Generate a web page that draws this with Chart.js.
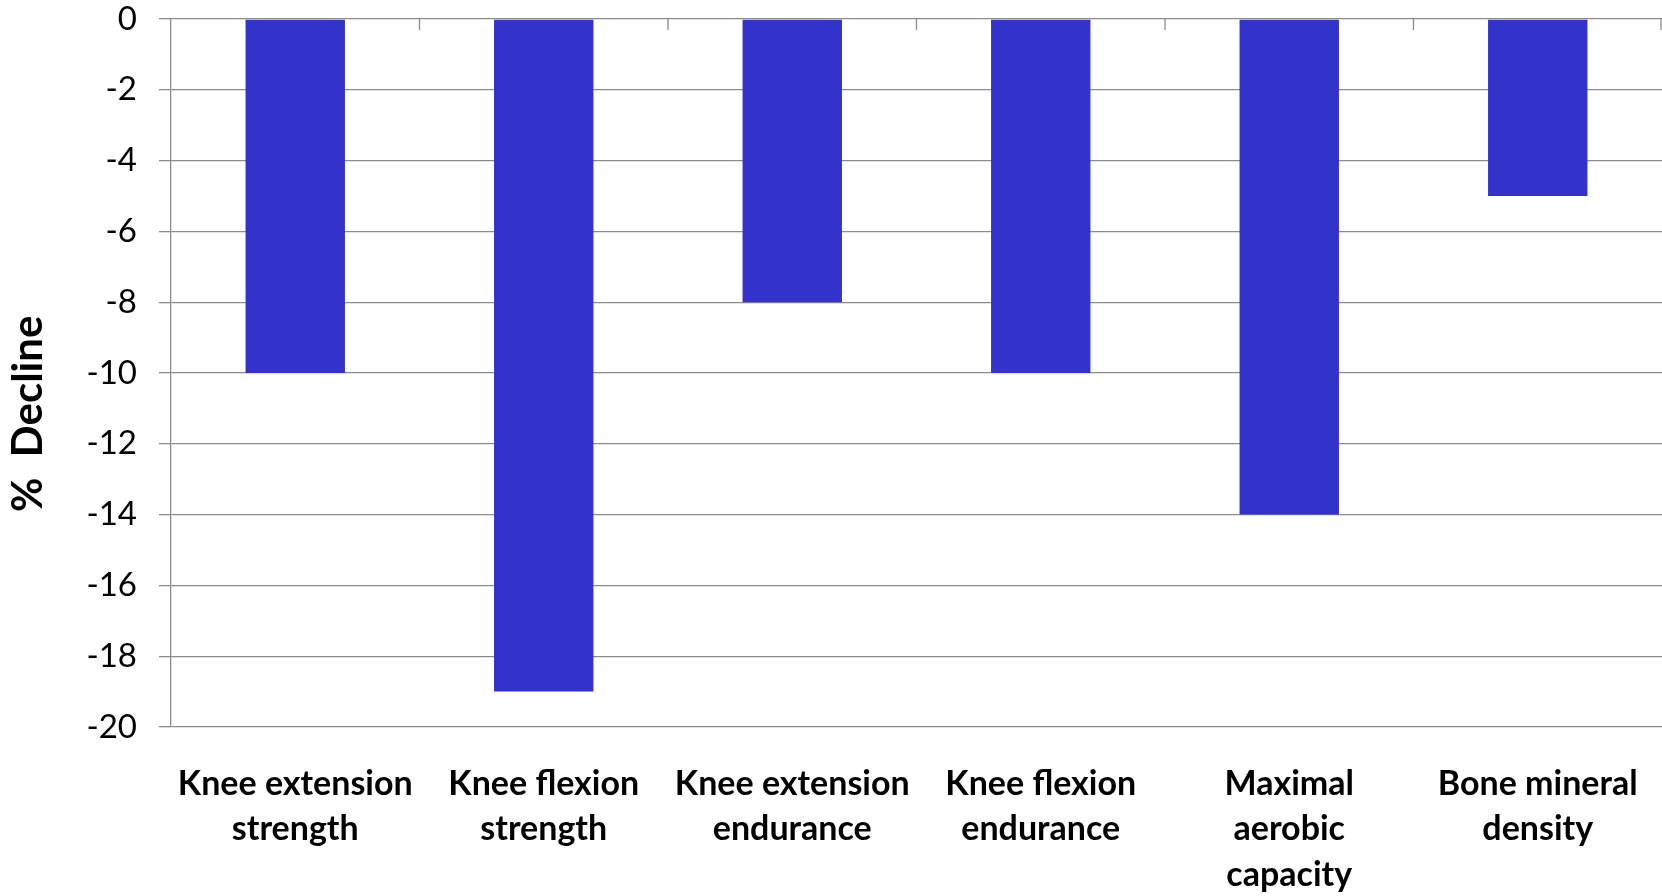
<!DOCTYPE html>
<html>
<head>
<meta charset="utf-8">
<script src="https://cdn.jsdelivr.net/npm/chart.js@4.4.1/dist/chart.umd.min.js"></script>
<style>
  html, body { margin: 0; padding: 0; background: #ffffff; }
  #wrap { width: 1662px; height: 896px; }
</style>
</head>
<body>
<div id="wrap"><canvas id="c" width="1662" height="896"></canvas></div>
<script>
const categories = [
  ["Knee extension", "strength"],
  ["Knee flexion", "strength"],
  ["Knee extension", "endurance"],
  ["Knee flexion", "endurance"],
  ["Maximal", "aerobic", "capacity"],
  ["Bone mineral", "density"]
];
const declineValues = [-10, -19, -8, -10, -14, -5];
const yTickMin = -20;
const yTickMax = 0;
const yTickStep = 2;
const yAxisTitle = "%  Decline";

const gridColor = "#8c8c8c";

const categoryTickPlugin = {
  id: "categoryTicks",
  afterDraw(chart) {
    const xs = chart.scales.x, ys = chart.scales.y;
    const ctx = chart.ctx;
    const y0 = ys.getPixelForValue(0);
    ctx.save();
    ctx.strokeStyle = gridColor;
    ctx.lineWidth = 1.3;
    ctx.beginPath();
    const n = chart.data.labels.length;
    for (let i = 1; i <= n; i++) {
      let px;
      if (i < n) px = (xs.getPixelForTick(i - 1) + xs.getPixelForTick(i)) / 2;
      else px = xs.right - 1;
      ctx.moveTo(px, y0);
      ctx.lineTo(px, y0 + 11);
    }
    ctx.stroke();
    ctx.restore();
  }
};

new Chart(document.getElementById("c"), {
  type: "bar",
  data: {
    labels: categories,
    datasets: [{
      data: declineValues,
      backgroundColor: "#3333cc",
      borderWidth: 0,
      barPercentage: 0.4,
      categoryPercentage: 1.0
    }]
  },
  options: {
    responsive: false,
    animation: false,
    devicePixelRatio: 1,
    layout: { padding: { top: 0, right: 0, bottom: 0, left: 0 } },
    plugins: {
      legend: { display: false },
      tooltip: { enabled: false }
    },
    scales: {
      x: {
        position: "bottom",
        grid: { display: false, drawTicks: false },
        border: { display: false },
        ticks: {
          color: "#000000",
          font: { family: "Lato", size: 34, weight: "bold", lineHeight: 1.34 },
          padding: 34,
          maxRotation: 0,
          autoSkip: false
        },
        afterFit(s) {
          s.height = 169;
          s.paddingLeft = 0;
          s.paddingRight = 0;
        }
      },
      y: {
        min: yTickMin,
        max: yTickMax,
        grid: { color: gridColor, lineWidth: 1.3, tickLength: 12, tickColor: gridColor },
        border: { display: true, color: gridColor, width: 1.3 },
        ticks: {
          stepSize: yTickStep,
          color: "#000000",
          font: { family: "Lato", size: 33 },
          padding: 22
        },
        title: {
          display: true,
          text: yAxisTitle + "        ",
          color: "#000000",
          font: { family: "Lato", size: 42, weight: "bold" },
          padding: { top: 3, bottom: 0 }
        },
        afterFit(s) {
          s.width = 171;
          s.paddingTop = 19;
          s.paddingBottom = 0;
        }
      }
    }
  },
  plugins: [categoryTickPlugin]
});
</script>
</body>
</html>
